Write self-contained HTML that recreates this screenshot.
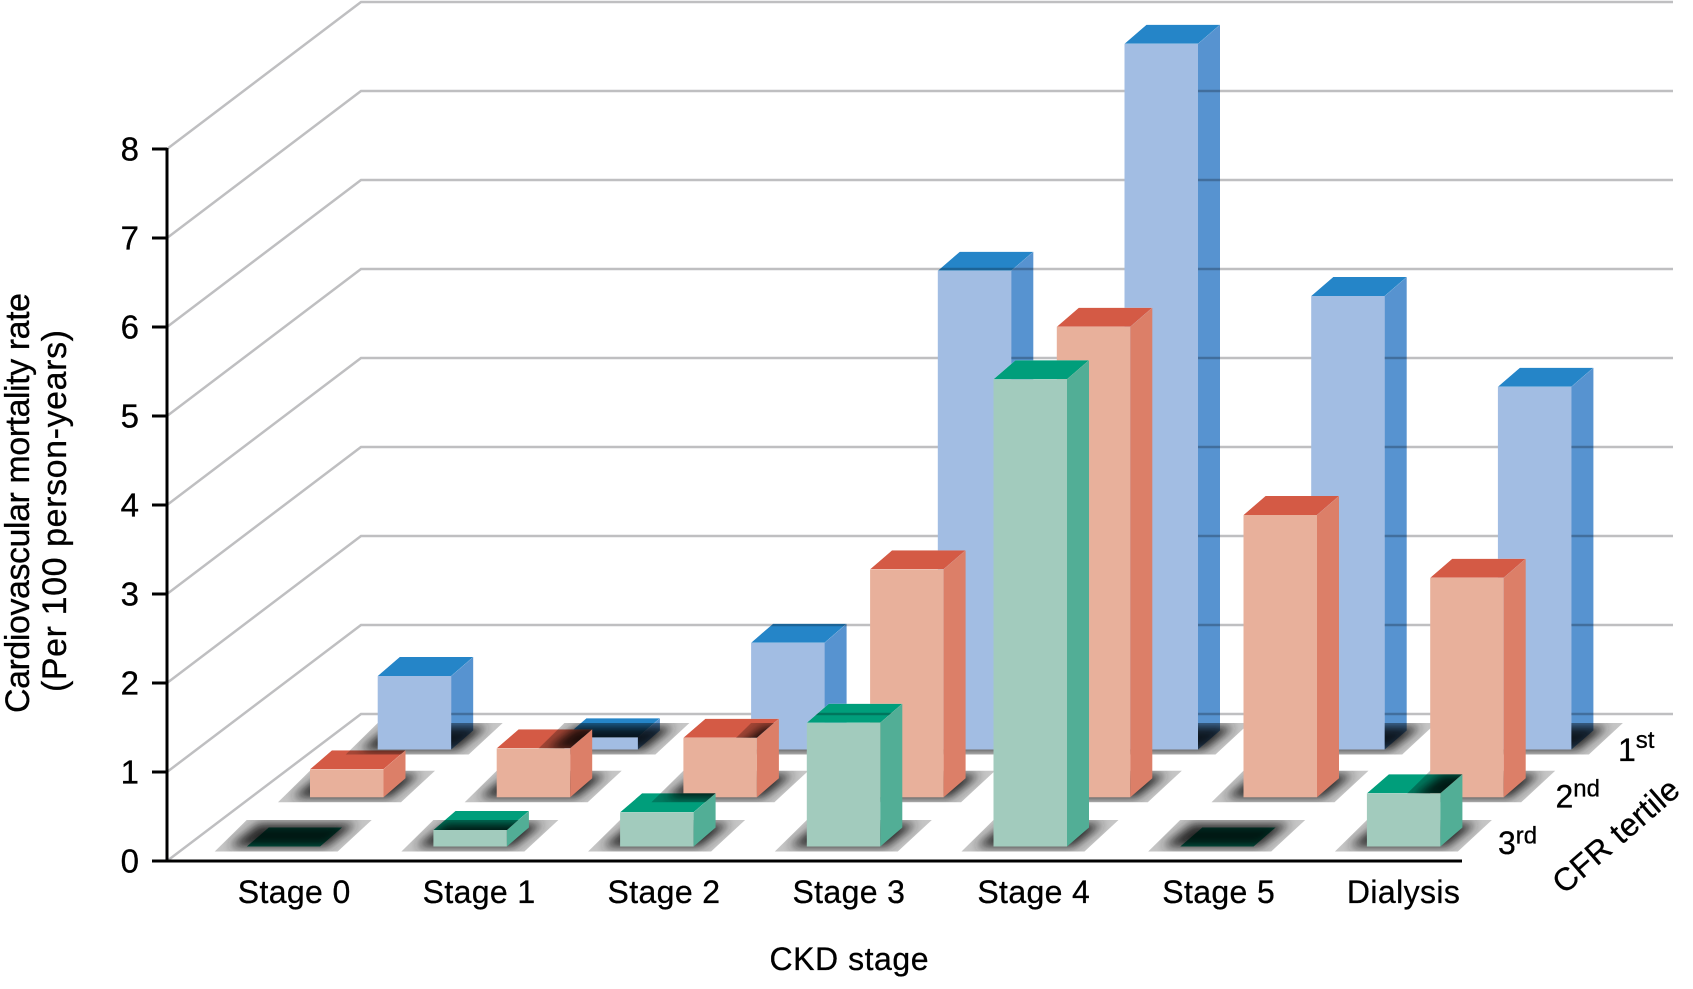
<!DOCTYPE html>
<html><head><meta charset="utf-8"><style>
html,body{margin:0;padding:0;background:#fff;}
svg{display:block;}
text{font-family:"Liberation Sans",Arial,sans-serif;fill:#000;stroke:#000;stroke-width:0.3;}
.bf{fill:#a2bde3}.bs{fill:#5793d0;mix-blend-mode:multiply}.bt{fill:#2585c8;mix-blend-mode:multiply}
.rf{fill:#e8b09b}.rs{fill:#dc7f68}.rt{fill:#d45a45;mix-blend-mode:multiply}
.gf{fill:#a2cbbd}.gs{fill:#52ae96}.gt{fill:#009e7b;mix-blend-mode:multiply}
.iso{isolation:isolate}
.grid polyline{fill:none;stroke:#bfbfc1;stroke-width:2.5;}
</style></head><body>
<svg width="1693" height="989" viewBox="0 0 1693 989" xmlns="http://www.w3.org/2000/svg">
<defs>
<filter id="bl" x="-50%" y="-150%" width="200%" height="400%"><feGaussianBlur stdDeviation="5"/></filter>
<clipPath id="sc"><polygon points="-32,5 91,5 125,-26.5 0,-26.5"/></clipPath>
<g id="sh">
<polygon points="-32,5 91,5 125,-26.5 0,-26.5" fill="#c6c6c6"/>
<polygon points="-18,0.5 80,0.5 110,-23 12,-23" fill="#262626" filter="url(#bl)" clip-path="url(#sc)"/>
</g>
<g id="bg">
<rect x="0" y="0" width="1693" height="989" fill="#fff"/>
<g class="grid">
<polyline points="167,861 361,714 1673,714"/>
<polyline points="167,772 361,625 1673,625"/>
<polyline points="167,683 361,536 1673,536"/>
<polyline points="167,594 361,447 1673,447"/>
<polyline points="167,505 361,358 1673,358"/>
<polyline points="167,416 361,269 1673,269"/>
<polyline points="167,327 361,180 1673,180"/>
<polyline points="167,238 361,91 1673,91"/>
<polyline points="167,149 361,2 1673,2"/>
</g>
<use href="#sh" transform="translate(377.7,749.5)"/>
<use href="#sh" transform="translate(564.4,749.5)"/>
<use href="#sh" transform="translate(751.1,749.5)"/>
<use href="#sh" transform="translate(937.8,749.5)"/>
<use href="#sh" transform="translate(1124.5,749.5)"/>
<use href="#sh" transform="translate(1311.2,749.5)"/>
<use href="#sh" transform="translate(1497.9,749.5)"/>
<use href="#sh" transform="translate(310,797.3)"/>
<use href="#sh" transform="translate(496.7,797.3)"/>
<use href="#sh" transform="translate(683.4,797.3)"/>
<use href="#sh" transform="translate(870.1,797.3)"/>
<use href="#sh" transform="translate(1056.8,797.3)"/>
<use href="#sh" transform="translate(1243.5,797.3)"/>
<use href="#sh" transform="translate(1430.2,797.3)"/>
<use href="#sh" transform="translate(246.7,846.5)"/>
<use href="#sh" transform="translate(433.4,846.5)"/>
<use href="#sh" transform="translate(620.1,846.5)"/>
<use href="#sh" transform="translate(806.8,846.5)"/>
<use href="#sh" transform="translate(993.5,846.5)"/>
<use href="#sh" transform="translate(1180.2,846.5)"/>
<use href="#sh" transform="translate(1366.9,846.5)"/>
</g>
<clipPath id="tb0"><polygon points="0,-73.5 73.5,-73.5 95.5,-92.5 22,-92.5"/></clipPath>
<clipPath id="tb1"><polygon points="0,-12.2 73.5,-12.2 95.5,-31.2 22,-31.2"/></clipPath>
<clipPath id="tb2"><polygon points="0,-106.8 73.5,-106.8 95.5,-125.8 22,-125.8"/></clipPath>
<clipPath id="tb3"><polygon points="0,-478.8 73.5,-478.8 95.5,-497.8 22,-497.8"/></clipPath>
<clipPath id="tb4"><polygon points="0,-705.8 73.5,-705.8 95.5,-724.8 22,-724.8"/></clipPath>
<clipPath id="tb5"><polygon points="0,-453.5 73.5,-453.5 95.5,-472.5 22,-472.5"/></clipPath>
<clipPath id="tb6"><polygon points="0,-362.8 73.5,-362.8 95.5,-381.8 22,-381.8"/></clipPath>
<clipPath id="tr0"><polygon points="0,-28 73.5,-28 95.5,-47 22,-47"/></clipPath>
<clipPath id="tr1"><polygon points="0,-49 73.5,-49 95.5,-68 22,-68"/></clipPath>
<clipPath id="tr2"><polygon points="0,-59.6 73.5,-59.6 95.5,-78.6 22,-78.6"/></clipPath>
<clipPath id="tr3"><polygon points="0,-228 73.5,-228 95.5,-247 22,-247"/></clipPath>
<clipPath id="tr4"><polygon points="0,-470.6 73.5,-470.6 95.5,-489.6 22,-489.6"/></clipPath>
<clipPath id="tr5"><polygon points="0,-282.3 73.5,-282.3 95.5,-301.3 22,-301.3"/></clipPath>
<clipPath id="tr6"><polygon points="0,-219.6 73.5,-219.6 95.5,-238.6 22,-238.6"/></clipPath>
<clipPath id="tg0"><polygon points="0,0 73.5,0 95.5,-19 22,-19"/></clipPath>
<clipPath id="tg1"><polygon points="0,-16.5 73.5,-16.5 95.5,-35.5 22,-35.5"/></clipPath>
<clipPath id="tg2"><polygon points="0,-34.2 73.5,-34.2 95.5,-53.2 22,-53.2"/></clipPath>
<clipPath id="tg3"><polygon points="0,-123.8 73.5,-123.8 95.5,-142.8 22,-142.8"/></clipPath>
<clipPath id="tg4"><polygon points="0,-467.2 73.5,-467.2 95.5,-486.2 22,-486.2"/></clipPath>
<clipPath id="tg6"><polygon points="0,-53.2 73.5,-53.2 95.5,-72.2 22,-72.2"/></clipPath>
</defs>

<use href="#bg"/>

<!-- Row 1st (blue, back) -->
<g transform="translate(377.7,749.5)">
<rect class="bf" x="0" y="-73.5" width="73.5" height="73.5"/>
<polygon class="bs" points="73.5,-73.5 95.5,-92.5 95.5,-19 73.5,0"/>
<g clip-path="url(#tb0)" class="iso"><use href="#bg" transform="translate(-377.7,-749.5)"/><polygon class="bt" points="0,-73.5 73.5,-73.5 95.5,-92.5 22,-92.5"/></g>
</g>
<g transform="translate(564.4,749.5)">
<rect class="bf" x="0" y="-12.2" width="73.5" height="12.2"/>
<polygon class="bs" points="73.5,-12.2 95.5,-31.2 95.5,-19 73.5,0"/>
<g clip-path="url(#tb1)" class="iso"><use href="#bg" transform="translate(-564.4,-749.5)"/><polygon class="bt" points="0,-12.2 73.5,-12.2 95.5,-31.2 22,-31.2"/></g>
</g>
<g transform="translate(751.1,749.5)">
<rect class="bf" x="0" y="-106.8" width="73.5" height="106.8"/>
<polygon class="bs" points="73.5,-106.8 95.5,-125.8 95.5,-19 73.5,0"/>
<g clip-path="url(#tb2)" class="iso"><use href="#bg" transform="translate(-751.1,-749.5)"/><polygon class="bt" points="0,-106.8 73.5,-106.8 95.5,-125.8 22,-125.8"/></g>
</g>
<g transform="translate(937.8,749.5)">
<rect class="bf" x="0" y="-478.8" width="73.5" height="478.8"/>
<polygon class="bs" points="73.5,-478.8 95.5,-497.8 95.5,-19 73.5,0"/>
<g clip-path="url(#tb3)" class="iso"><use href="#bg" transform="translate(-937.8,-749.5)"/><polygon class="bt" points="0,-478.8 73.5,-478.8 95.5,-497.8 22,-497.8"/></g>
</g>
<g transform="translate(1124.5,749.5)">
<rect class="bf" x="0" y="-705.8" width="73.5" height="705.8"/>
<polygon class="bs" points="73.5,-705.8 95.5,-724.8 95.5,-19 73.5,0"/>
<g clip-path="url(#tb4)" class="iso"><use href="#bg" transform="translate(-1124.5,-749.5)"/><polygon class="bt" points="0,-705.8 73.5,-705.8 95.5,-724.8 22,-724.8"/></g>
</g>
<g transform="translate(1311.2,749.5)">
<rect class="bf" x="0" y="-453.5" width="73.5" height="453.5"/>
<polygon class="bs" points="73.5,-453.5 95.5,-472.5 95.5,-19 73.5,0"/>
<g clip-path="url(#tb5)" class="iso"><use href="#bg" transform="translate(-1311.2,-749.5)"/><polygon class="bt" points="0,-453.5 73.5,-453.5 95.5,-472.5 22,-472.5"/></g>
</g>
<g transform="translate(1497.9,749.5)">
<rect class="bf" x="0" y="-362.8" width="73.5" height="362.8"/>
<polygon class="bs" points="73.5,-362.8 95.5,-381.8 95.5,-19 73.5,0"/>
<g clip-path="url(#tb6)" class="iso"><use href="#bg" transform="translate(-1497.9,-749.5)"/><polygon class="bt" points="0,-362.8 73.5,-362.8 95.5,-381.8 22,-381.8"/></g>
</g>

<!-- Row 2nd (red, middle) -->
<g transform="translate(310,797.3)">
<rect class="rf" x="0" y="-28" width="73.5" height="28"/>
<polygon class="rs" points="73.5,-28 95.5,-47 95.5,-19 73.5,0"/>
<g clip-path="url(#tr0)" class="iso"><use href="#bg" transform="translate(-310,-797.3)"/><polygon class="rt" points="0,-28 73.5,-28 95.5,-47 22,-47"/></g>
</g>
<g transform="translate(496.7,797.3)">
<rect class="rf" x="0" y="-49" width="73.5" height="49"/>
<polygon class="rs" points="73.5,-49 95.5,-68 95.5,-19 73.5,0"/>
<g clip-path="url(#tr1)" class="iso"><use href="#bg" transform="translate(-496.7,-797.3)"/><polygon class="rt" points="0,-49 73.5,-49 95.5,-68 22,-68"/></g>
</g>
<g transform="translate(683.4,797.3)">
<rect class="rf" x="0" y="-59.6" width="73.5" height="59.6"/>
<polygon class="rs" points="73.5,-59.6 95.5,-78.6 95.5,-19 73.5,0"/>
<g clip-path="url(#tr2)" class="iso"><use href="#bg" transform="translate(-683.4,-797.3)"/><polygon class="rt" points="0,-59.6 73.5,-59.6 95.5,-78.6 22,-78.6"/></g>
</g>
<g transform="translate(870.1,797.3)">
<rect class="rf" x="0" y="-228" width="73.5" height="228"/>
<polygon class="rs" points="73.5,-228 95.5,-247 95.5,-19 73.5,0"/>
<g clip-path="url(#tr3)" class="iso"><use href="#bg" transform="translate(-870.1,-797.3)"/><polygon class="rt" points="0,-228 73.5,-228 95.5,-247 22,-247"/></g>
</g>
<g transform="translate(1056.8,797.3)">
<rect class="rf" x="0" y="-470.6" width="73.5" height="470.6"/>
<polygon class="rs" points="73.5,-470.6 95.5,-489.6 95.5,-19 73.5,0"/>
<g clip-path="url(#tr4)" class="iso"><use href="#bg" transform="translate(-1056.8,-797.3)"/><polygon class="rt" points="0,-470.6 73.5,-470.6 95.5,-489.6 22,-489.6"/></g>
</g>
<g transform="translate(1243.5,797.3)">
<rect class="rf" x="0" y="-282.3" width="73.5" height="282.3"/>
<polygon class="rs" points="73.5,-282.3 95.5,-301.3 95.5,-19 73.5,0"/>
<g clip-path="url(#tr5)" class="iso"><use href="#bg" transform="translate(-1243.5,-797.3)"/><polygon class="rt" points="0,-282.3 73.5,-282.3 95.5,-301.3 22,-301.3"/></g>
</g>
<g transform="translate(1430.2,797.3)">
<rect class="rf" x="0" y="-219.6" width="73.5" height="219.6"/>
<polygon class="rs" points="73.5,-219.6 95.5,-238.6 95.5,-19 73.5,0"/>
<g clip-path="url(#tr6)" class="iso"><use href="#bg" transform="translate(-1430.2,-797.3)"/><polygon class="rt" points="0,-219.6 73.5,-219.6 95.5,-238.6 22,-238.6"/></g>
</g>

<!-- Row 3rd (green, front) -->
<g transform="translate(246.7,846.5)">
<g clip-path="url(#tg0)" class="iso"><use href="#bg" transform="translate(-246.7,-846.5)"/><polygon class="gt" points="0,0 73.5,0 95.5,-19 22,-19"/></g>
</g>
<g transform="translate(433.4,846.5)">
<rect class="gf" x="0" y="-16.5" width="73.5" height="16.5"/>
<polygon class="gs" points="73.5,-16.5 95.5,-35.5 95.5,-19 73.5,0"/>
<g clip-path="url(#tg1)" class="iso"><use href="#bg" transform="translate(-433.4,-846.5)"/><polygon class="gt" points="0,-16.5 73.5,-16.5 95.5,-35.5 22,-35.5"/></g>
</g>
<g transform="translate(620.1,846.5)">
<rect class="gf" x="0" y="-34.2" width="73.5" height="34.2"/>
<polygon class="gs" points="73.5,-34.2 95.5,-53.2 95.5,-19 73.5,0"/>
<g clip-path="url(#tg2)" class="iso"><use href="#bg" transform="translate(-620.1,-846.5)"/><polygon class="gt" points="0,-34.2 73.5,-34.2 95.5,-53.2 22,-53.2"/></g>
</g>
<g transform="translate(806.8,846.5)">
<rect class="gf" x="0" y="-123.8" width="73.5" height="123.8"/>
<polygon class="gs" points="73.5,-123.8 95.5,-142.8 95.5,-19 73.5,0"/>
<g clip-path="url(#tg3)" class="iso"><use href="#bg" transform="translate(-806.8,-846.5)"/><polygon class="gt" points="0,-123.8 73.5,-123.8 95.5,-142.8 22,-142.8"/></g>
</g>
<g transform="translate(993.5,846.5)">
<rect class="gf" x="0" y="-467.2" width="73.5" height="467.2"/>
<polygon class="gs" points="73.5,-467.2 95.5,-486.2 95.5,-19 73.5,0"/>
<g clip-path="url(#tg4)" class="iso"><use href="#bg" transform="translate(-993.5,-846.5)"/><polygon class="gt" points="0,-467.2 73.5,-467.2 95.5,-486.2 22,-486.2"/></g>
</g>
<g transform="translate(1180.2,846.5)">
<g clip-path="url(#tg0)" class="iso"><use href="#bg" transform="translate(-1180.2,-846.5)"/><polygon class="gt" points="0,0 73.5,0 95.5,-19 22,-19"/></g>
</g>
<g transform="translate(1366.9,846.5)">
<rect class="gf" x="0" y="-53.2" width="73.5" height="53.2"/>
<polygon class="gs" points="73.5,-53.2 95.5,-72.2 95.5,-19 73.5,0"/>
<g clip-path="url(#tg6)" class="iso"><use href="#bg" transform="translate(-1366.9,-846.5)"/><polygon class="gt" points="0,-53.2 73.5,-53.2 95.5,-72.2 22,-72.2"/></g>
</g>

<!-- Axes -->
<g stroke="#000" stroke-width="3" fill="none">
<line x1="167" y1="148" x2="167" y2="862.5"/>
<line x1="165.5" y1="861" x2="1462" y2="861"/>
<line x1="152" y1="861" x2="167" y2="861"/>
<line x1="152" y1="772" x2="167" y2="772"/>
<line x1="152" y1="683" x2="167" y2="683"/>
<line x1="152" y1="594" x2="167" y2="594"/>
<line x1="152" y1="505" x2="167" y2="505"/>
<line x1="152" y1="416" x2="167" y2="416"/>
<line x1="152" y1="327" x2="167" y2="327"/>
<line x1="152" y1="238" x2="167" y2="238"/>
<line x1="152" y1="149" x2="167" y2="149"/>
</g>

<!-- Y tick labels -->
<g font-size="33" text-anchor="end">
<text x="139" y="872.5">0</text>
<text x="139" y="783.5">1</text>
<text x="139" y="694.5">2</text>
<text x="139" y="605.5">3</text>
<text x="139" y="516.5">4</text>
<text x="139" y="427.5">5</text>
<text x="139" y="338.5">6</text>
<text x="139" y="249.5">7</text>
<text x="139" y="160.5">8</text>
</g>

<!-- Y axis title -->
<text font-size="34" text-anchor="middle" transform="translate(29,503) rotate(-90)" textLength="420" lengthAdjust="spacing">Cardiovascular mortality rate</text>
<text font-size="34" text-anchor="middle" transform="translate(66,511) rotate(-90)" textLength="362" lengthAdjust="spacing">(Per 100 person-years)</text>

<!-- X tick labels -->
<g font-size="32" text-anchor="middle">
<text x="294" y="903" textLength="112.5" lengthAdjust="spacing">Stage 0</text>
<text x="478.9" y="903" textLength="112.5" lengthAdjust="spacing">Stage 1</text>
<text x="663.8" y="903" textLength="112.5" lengthAdjust="spacing">Stage 2</text>
<text x="848.7" y="903" textLength="112.5" lengthAdjust="spacing">Stage 3</text>
<text x="1033.6" y="903" textLength="112.5" lengthAdjust="spacing">Stage 4</text>
<text x="1218.5" y="903" textLength="112.5" lengthAdjust="spacing">Stage 5</text>
<text x="1403.4" y="903" textLength="113" lengthAdjust="spacing">Dialysis</text>
<text x="849" y="970" textLength="159" lengthAdjust="spacing">CKD stage</text>
</g>

<!-- Tertile labels -->
<g font-size="32">
<text x="1618" y="761">1<tspan font-size="24" dy="-13">st</tspan></text>
<text x="1555.5" y="807.3">2<tspan font-size="24" dy="-10.6">nd</tspan></text>
<text x="1498" y="854">3<tspan font-size="24" dy="-10.7">rd</tspan></text>
</g>
<text font-size="32" text-anchor="middle" transform="translate(1623,844) rotate(-41)" textLength="156" lengthAdjust="spacing">CFR tertile</text>
</svg>
</body></html>
